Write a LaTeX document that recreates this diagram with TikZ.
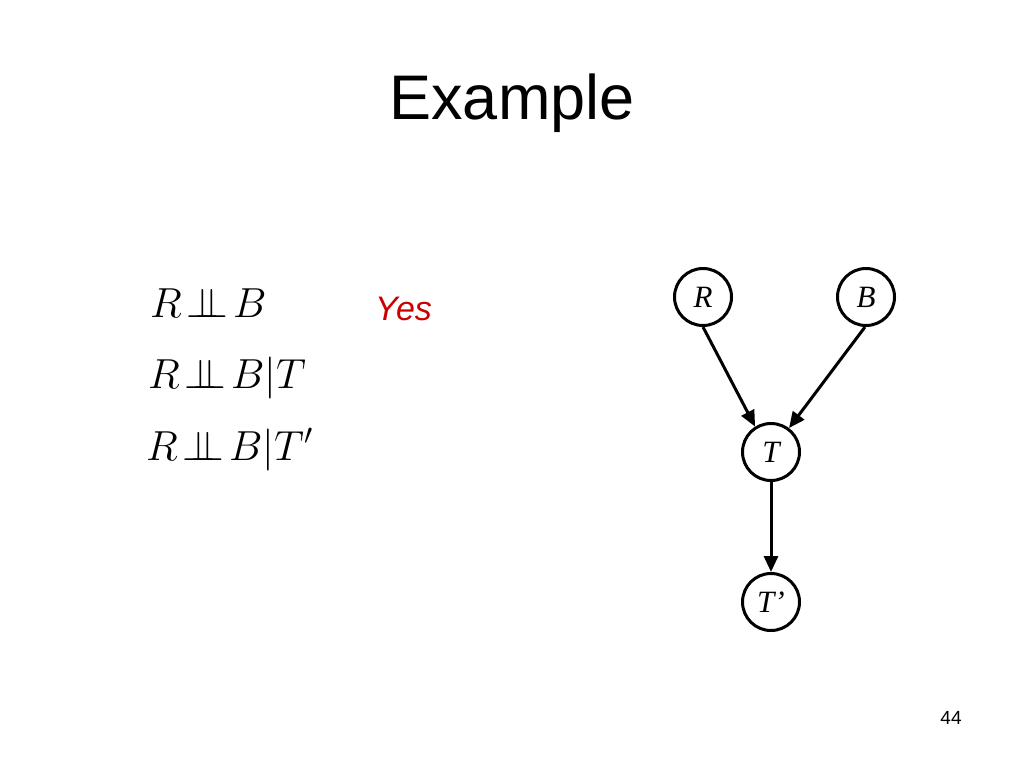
\RequirePackage{fix-cm}
\documentclass[tikz,border=0pt]{standalone}
\usepackage{fontspec}
\setmainfont{Liberation Sans}
\newfontfamily\serifit{Liberation Serif}
\usetikzlibrary{arrows.meta}
\definecolor{yesred}{RGB}{204,0,0}
\newcommand{\indep}{\mkern2mu{\perp\mkern-10mu\perp}\mkern2mu}
\tikzset{
  bn/.style={circle, draw=black, line width=3pt, minimum size=57pt, inner sep=0pt,
    font=\fontsize{31}{36}\selectfont\serifit\itshape},
  edge/.style={line width=3pt, -{Triangle[length=16pt,width=14pt]}},
  formula/.style={anchor=base west, inner sep=0pt, font=\fontsize{42}{50}\selectfont}
}
\begin{document}
\begin{tikzpicture}[x=1pt,y=-1pt]
\useasboundingbox[fill=white] (0,0) rectangle (1024,768);
\node[anchor=base, inner sep=0pt, font=\fontsize{63}{70}\selectfont] (title) at (512,119) {Example};
\node[formula] (f1) at (150,317) {$R\indep B$};
\node[formula] (f2) at (148,388) {$R\indep B|T$};
\node[formula] (f3) at (146,460) {$R\indep B|T'$};
\node[anchor=base west, inner sep=0pt, text=yesred, font=\fontsize{34}{40}\selectfont\itshape] (yes) at (375,320) {Yes};
\node[bn] (R) at (703,297) {R};
\node[bn] (B) at (866,297) {B};
\node[bn] (T) at (771,452) {T};
\node[bn] (Tp) at (771,602) {T’};
\draw[edge] (R.south) -- (T.122);
\draw[edge] (B.-92) -- (T.53);
\draw[edge] (T.south) -- (Tp.north);
\node[anchor=base, inner sep=0pt, font=\fontsize{19}{22}\selectfont] (page) at (951,724) {44};
\end{tikzpicture}
\end{document}
